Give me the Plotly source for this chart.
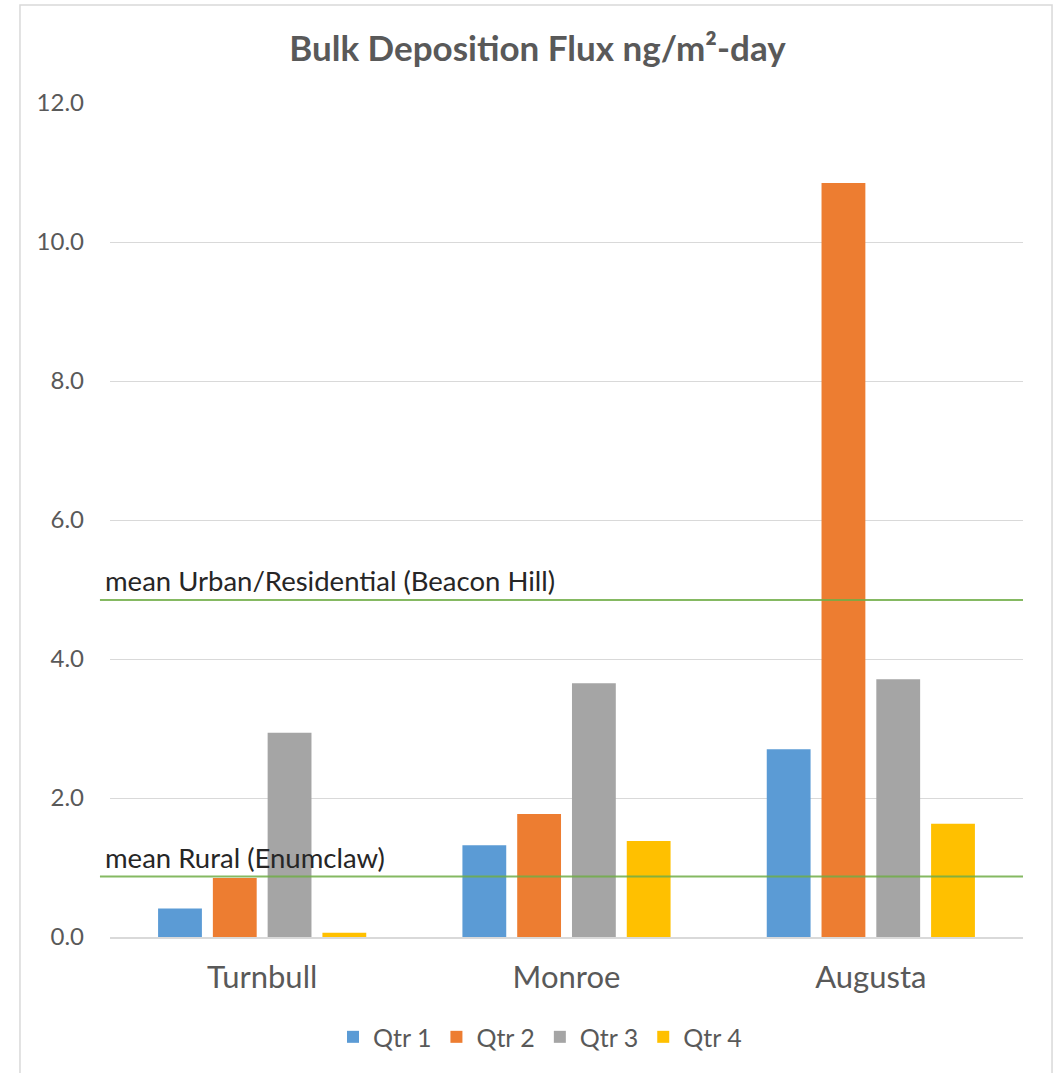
import plotly.graph_objects as go

# Sites and quarterly bulk deposition flux (ng/m²-day)
sites = ["Turnbull", "Monroe", "Augusta"]
quarters = ["Qtr 1", "Qtr 2", "Qtr 3", "Qtr 4"]
qtr1 = [0.41, 1.32, 2.70]
qtr2 = [0.85, 1.77, 10.85]
qtr3 = [2.94, 3.65, 3.71]
qtr4 = [0.06, 1.38, 1.63]
series = [qtr1, qtr2, qtr3, qtr4]
colors = ["#5B9BD5", "#ED7D31", "#A5A5A5", "#FFC000"]

# Reference means
ref_labels = ["mean Urban/Residential (Beacon Hill)", "mean Rural (Enumclaw)"]
ref_values = [4.85, 0.87]

y_ticks = [0, 2, 4, 6, 8, 10, 12]

FONT = "Lato, 'Open Sans', sans-serif"
TEXT = "#595959"

fig = go.Figure()
for name, vals, col in zip(quarters, series, colors):
    fig.add_trace(go.Bar(name=name, x=sites, y=vals, marker_color=col,
                         marker_line_width=0))

shapes = []
annotations = []
for label, val in zip(ref_labels, ref_values):
    shapes.append(dict(type="line", xref="paper", yref="y",
                       x0=-0.011, x1=1.0, y0=val, y1=val,
                       line=dict(color="rgba(112,173,71,0.85)", width=2),
                       layer="above"))
    annotations.append(dict(text=label, xref="paper", yref="y",
                            x=-0.008, y=val, xanchor="left", yanchor="bottom",
                            yshift=1, showarrow=False,
                            font=dict(family=FONT, size=27.5, color="#262626")))

# Outer chart frame
shapes.append(dict(type="rect", xref="paper", yref="paper",
                   x0=-0.0986, x1=1.0318, y0=-0.2, y1=1.1175,
                   line=dict(color="#D9D9D9", width=1.5), layer="below"))

fig.update_layout(
    width=1058, height=1073,
    margin=dict(l=110, r=35, t=103, b=136),
    paper_bgcolor="white", plot_bgcolor="white",
    font=dict(family=FONT, color=TEXT),
    title=dict(text="<b>Bulk Deposition Flux ng/m²-day</b>",
               xref="container", x=0.508, xanchor="center",
               yref="container", y=0.955, yanchor="middle",
               font=dict(family=FONT, size=35, color=TEXT)),
    barmode="group", bargap=0.28, bargroupgap=0.2,
    xaxis=dict(showgrid=False, showline=True, linecolor="#D9D9D9",
               linewidth=1.5, ticks="", tickfont=dict(size=31, color=TEXT),
               ticklabelstandoff=12),
    yaxis=dict(range=[0, 12], tickvals=y_ticks, tickformat=".1f",
               showgrid=True, gridcolor="#D9D9D9", gridwidth=1.2,
               zeroline=False, showline=False, ticks="",
               tickfont=dict(size=24, color=TEXT), ticklabelstandoff=25),
    legend=dict(orientation="h", x=0.471, xanchor="center",
                y=-0.12, yanchor="middle",
                font=dict(size=25, color=TEXT), itemwidth=30,
                traceorder="normal"),
    shapes=shapes,
    annotations=annotations,
)

fig.write_html("out.html")
